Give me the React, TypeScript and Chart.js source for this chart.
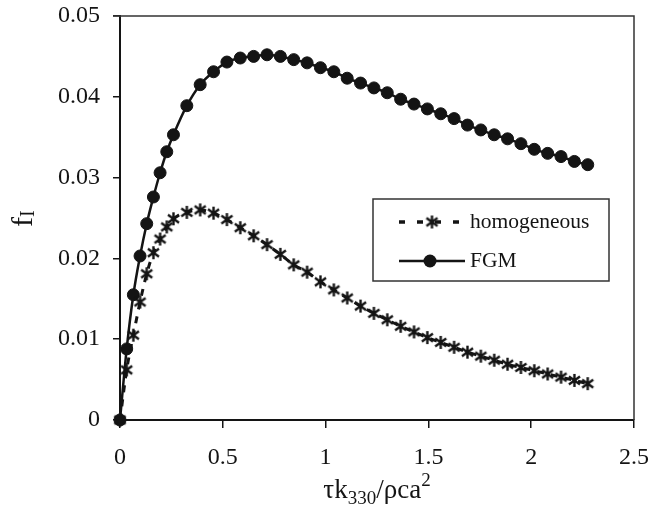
import React, { useEffect, useRef } from "react";
import { Chart, registerables } from "chart.js";

Chart.register(...registerables);

// ---------- data ----------
const xValues = [
  0, 0.0325, 0.065, 0.0975, 0.13, 0.1625, 0.195, 0.2275, 0.26,
  0.325, 0.39, 0.455, 0.52, 0.585, 0.65, 0.715, 0.78, 0.845, 0.91,
  0.975, 1.04, 1.105, 1.17, 1.235, 1.3, 1.365, 1.43, 1.495, 1.56,
  1.625, 1.69, 1.755, 1.82, 1.885, 1.95, 2.015, 2.08, 2.145, 2.21, 2.275,
];

const fgmValues = [
  0, 0.0088, 0.0155, 0.0203, 0.0243, 0.0276, 0.0306, 0.0332, 0.0353,
  0.0389, 0.0415, 0.0431, 0.0443, 0.0448, 0.0450, 0.0452, 0.0450, 0.0446,
  0.0442, 0.0436, 0.0431, 0.0423, 0.0417, 0.0411, 0.0405, 0.0397,
  0.0391, 0.0385, 0.0379, 0.0373, 0.0365, 0.0359, 0.0353, 0.0348,
  0.0342, 0.0335, 0.0330, 0.0326, 0.0320, 0.0316,
];

const homogeneousValues = [
  0, 0.0062, 0.0105, 0.0146, 0.0181, 0.0207, 0.0224, 0.0239, 0.0249,
  0.0257, 0.0260, 0.0256, 0.0248, 0.0238, 0.0228, 0.0217, 0.0205, 0.0192,
  0.0183, 0.0171, 0.0161, 0.0151, 0.0141, 0.0132, 0.0124, 0.0116,
  0.0109, 0.0102, 0.0096, 0.0090, 0.0084, 0.0079, 0.0074, 0.0069,
  0.0065, 0.0061, 0.0057, 0.0053, 0.0049, 0.0045,
];

const seriesLabels = ["homogeneous", "FGM"];

const xTickValues = [0, 0.5, 1, 1.5, 2, 2.5];
const xTickLabels = ["0", "0.5", "1", "1.5", "2", "2.5"];
const yTickValues = [0, 0.01, 0.02, 0.03, 0.04, 0.05];
const yTickLabels = ["0", "0.01", "0.02", "0.03", "0.04", "0.05"];

// ---------- style ----------
const SERIF = '"Liberation Serif", "Times New Roman", serif';
const INK = "#141414";
const FRAME = "#333333";

function makeAsterisk(size: number, lw: number): HTMLCanvasElement {
  const c = document.createElement("canvas");
  c.width = size;
  c.height = size;
  const g = c.getContext("2d")!;
  g.strokeStyle = INK;
  g.lineWidth = lw;
  const m = size / 2;
  const r = size / 2 - 1;
  const dx = r * 0.85;
  const dy = r * 0.62;
  g.beginPath();
  g.moveTo(m, m - r);
  g.lineTo(m, m + r);
  g.moveTo(m - dx, m - dy);
  g.lineTo(m + dx, m + dy);
  g.moveTo(m - dx, m + dy);
  g.lineTo(m + dx, m - dy);
  g.stroke();
  return c;
}

export default function App() {
  const ref = useRef<HTMLCanvasElement | null>(null);

  useEffect(() => {
    if (!ref.current) return;
    const prevMargin = document.body.style.margin;
    document.body.style.margin = "0";
    const asterisk = makeAsterisk(15, 2.4);

    const decorPlugin = {
      id: "decor",
      afterDraw(chart: any) {
        const ctx = chart.ctx as CanvasRenderingContext2D;
        const { left, top, right, bottom } = chart.chartArea;
        ctx.save();

        // top and right frame
        ctx.strokeStyle = FRAME;
        ctx.lineWidth = 1.5;
        ctx.beginPath();
        ctx.moveTo(left - 7, top);
        ctx.lineTo(right, top);
        ctx.lineTo(right, bottom);
        ctx.stroke();

        // legend
        const bx = left + 253;
        const by = top + 183;
        const bw = 236;
        const bh = 82;
        ctx.fillStyle = "#ffffff";
        ctx.fillRect(bx, by, bw, bh);
        ctx.strokeStyle = FRAME;
        ctx.lineWidth = 1.5;
        ctx.strokeRect(bx, by, bw, bh);

        const lx0 = bx + 26;
        const lx1 = bx + 92;
        const r1 = by + 23;
        const r2 = by + 62;

        ctx.strokeStyle = INK;
        ctx.lineWidth = 3.5;
        ctx.setLineDash([6, 12]);
        ctx.beginPath();
        ctx.moveTo(lx0, r1);
        ctx.lineTo(lx1, r1);
        ctx.stroke();
        ctx.setLineDash([]);
        ctx.drawImage(asterisk, bx + 59 - 7.5, r1 - 7.5);

        ctx.lineWidth = 2.5;
        ctx.beginPath();
        ctx.moveTo(lx0, r2);
        ctx.lineTo(lx1, r2);
        ctx.stroke();
        ctx.fillStyle = INK;
        ctx.beginPath();
        ctx.arc(bx + 57, r2, 6.5, 0, Math.PI * 2);
        ctx.fill();

        ctx.fillStyle = INK;
        ctx.font = `21.5px ${SERIF}`;
        ctx.textAlign = "left";
        ctx.textBaseline = "middle";
        ctx.fillText(seriesLabels[0], lx1 + 5, r1);
        ctx.fillText(seriesLabels[1], lx1 + 5, r2);

        // x title: τk330/ρca2
        ctx.textBaseline = "alphabetic";
        const big = `27px ${SERIF}`;
        const small = `19px ${SERIF}`;
        const parts: [string, string, number][] = [
          ["τk", big, 0],
          ["330", small, 6],
          ["/ρca", big, 0],
          ["2", small, -12],
        ];
        let total = 0;
        for (const [t, f] of parts) {
          ctx.font = f;
          total += ctx.measureText(t).width;
        }
        let x = 377 - total / 2;
        const base = 498;
        for (const [t, f, off] of parts) {
          ctx.font = f;
          ctx.fillText(t, x, base + off);
          x += ctx.measureText(t).width;
        }

        // y title: f_I rotated
        ctx.translate(32, 227);
        ctx.rotate(-Math.PI / 2);
        ctx.font = `30px ${SERIF}`;
        ctx.fillText("f", 0, 0);
        const fw = ctx.measureText("f").width;
        ctx.font = `20px ${SERIF}`;
        ctx.fillText("I", fw, 2);

        ctx.restore();
      },
    };

    const chart = new Chart(ref.current, {
      type: "line",
      data: {
        datasets: [
          {
            label: seriesLabels[0],
            data: xValues.map((x, i) => ({ x, y: homogeneousValues[i] })),
            borderColor: INK,
            backgroundColor: INK,
            borderWidth: 3,
            borderDash: [7, 7],
            pointStyle: asterisk as any,
            pointRadius: 7,
            cubicInterpolationMode: "monotone",
            clip: false as any,
          },
          {
            label: seriesLabels[1],
            data: xValues.map((x, i) => ({ x, y: fgmValues[i] })),
            borderColor: INK,
            backgroundColor: INK,
            borderWidth: 2.5,
            pointStyle: "circle",
            pointRadius: 6,
            pointBorderWidth: 1,
            cubicInterpolationMode: "monotone",
            clip: false as any,
          },
        ],
      },
      options: {
        animation: false,
        responsive: false,
        layout: { padding: { top: 16, right: 15, left: 8, bottom: 0 } },
        plugins: {
          legend: { display: false },
          tooltip: { enabled: false },
        },
        scales: {
          x: {
            type: "linear",
            min: 0,
            max: 2.5,
            border: { display: true, color: INK, width: 2 },
            grid: {
              drawOnChartArea: false,
              drawTicks: true,
              tickLength: 8,
              color: INK,
              lineWidth: 1.5,
            },
            ticks: {
              color: INK,
              font: { family: SERIF, size: 24 },
              padding: 15,
              maxRotation: 0,
              callback: (_v: any, i: number) => xTickLabels[i],
            },
            afterBuildTicks: (s: any) => {
              s.ticks = xTickValues.map((v) => ({ value: v }));
            },
            afterFit: (s: any) => {
              s.height = 93;
              s.paddingLeft = 0;
              s.paddingRight = 0;
            },
          },
          y: {
            type: "linear",
            min: 0,
            max: 0.05,
            border: { display: true, color: INK, width: 2 },
            grid: {
              drawOnChartArea: false,
              drawTicks: true,
              tickLength: 7,
              color: INK,
              lineWidth: 1.5,
            },
            ticks: {
              color: INK,
              font: { family: SERIF, size: 24 },
              padding: 13,
              callback: (_v: any, i: number) => yTickLabels[i],
            },
            afterBuildTicks: (s: any) => {
              s.ticks = yTickValues.map((v) => ({ value: v }));
            },
            afterFit: (s: any) => {
              s.width = 112;
              s.paddingTop = 0;
              s.paddingBottom = 0;
            },
          },
        },
      } as any,
      plugins: [decorPlugin],
    });

    return () => {
      chart.destroy();
      document.body.style.margin = prevMargin;
    };
  }, []);

  return (
    <canvas
      ref={ref}
      width={649}
      height={513}
      style={{ display: "block", width: 649, height: 513 }}
    />
  );
}
